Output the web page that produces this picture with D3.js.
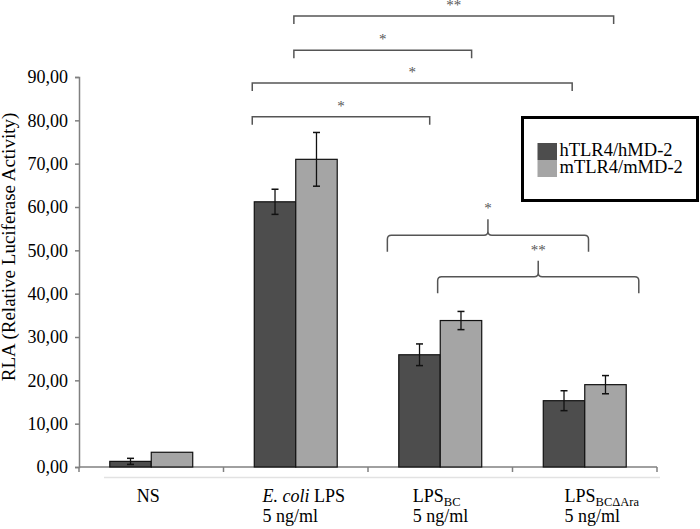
<!DOCTYPE html>
<html>
<head>
<meta charset="utf-8">
<script src="https://cdn.jsdelivr.net/npm/d3@7"></script>
<style>
  body { margin: 0; background: #fff; }
  svg { display: block; font-family: "Liberation Serif", "Times New Roman", serif; }
</style>
</head>
<body>
<div id="chart"></div>
<script>
const categories = ["NS", "E. coli LPS", "LPS_BC", "LPS_BCdAra"];
const seriesNames = ["hTLR4/hMD-2", "mTLR4/mMD-2"];
const hValues = [1.3, 61.2, 25.9, 15.3];
const hErrors = [0.7, 2.9, 2.5, 2.3];
const mValues = [3.4, 71.0, 33.8, 19.0];
const mErrors = [0, 6.2, 2.1, 2.1];
const yTicks = [0, 10, 20, 30, 40, 50, 60, 70, 80, 90];

// significance marks: [category index, fraction of band] for both ends, height in data units
const brackets = [
  { from: [1, 0.487], to: [3, 0.70], level: 104.1, label: "**" },
  { from: [1, 0.487], to: [2, 0.717], level: 96.2, label: "*" },
  { from: [1, 0.199], to: [3, 0.413], level: 88.6, label: "*" },
  { from: [1, 0.199], to: [2, 0.427], level: 80.8, label: "*" },
];
const braces = [
  { from: [2, 0.134], to: [3, 0.526], level: 53.5, label: "*" },
  { from: [2, 0.482], to: [3, 0.874], level: 43.9, label: "**" },
];

const width = 700;
const height = 529;
const margin = { top: 77, right: 43, bottom: 62, left: 79 };
const colors = ["#4d4d4d", "#a5a5a5"];
const axisColor = "#808080";

const svg = d3.select("#chart").append("svg")
  .attr("width", width)
  .attr("height", height);

const x = d3.scaleBand()
  .domain(categories)
  .range([margin.left, width - margin.right])
  .padding(0);

const bw = x.bandwidth();
const barW = bw * 0.287;
const xSub = d3.scaleBand()
  .domain(seriesNames)
  .range([bw / 2 - barW, bw / 2 + barW]);

const y = d3.scaleLinear()
  .domain([0, 90])
  .range([height - margin.bottom, margin.top]);

const fmt = (d) => d3.format(".2f")(d).replace(".", ",");

// y axis
const yAxis = svg.append("g")
  .attr("transform", `translate(${margin.left},0)`)
  .call(d3.axisLeft(y).tickValues(yTicks).tickFormat(fmt).tickSize(4).tickPadding(7));
yAxis.select(".domain").attr("stroke", axisColor).attr("stroke-width", 1.5);
yAxis.selectAll(".tick line").attr("stroke", axisColor).attr("stroke-width", 1.5);
yAxis.selectAll(".tick text")
  .attr("fill", "#000")
  .style("font-family", "Liberation Serif, serif")
  .style("font-size", "18px");

svg.append("text")
  .attr("transform", `translate(15, ${(margin.top + height - margin.bottom) / 2 - 25}) rotate(-90)`)
  .attr("text-anchor", "middle")
  .style("font-size", "19px")
  .text("RLA (Relative Luciferase Activity)");

// x axis line and category ticks
const y0 = y(0);
svg.append("line")
  .attr("x1", margin.left).attr("x2", width - margin.right)
  .attr("y1", y0).attr("y2", y0)
  .attr("stroke", axisColor).attr("stroke-width", 1.5);

const edges = categories.map((c) => x(c)).concat([width - margin.right]);
svg.selectAll(".xtick")
  .data(edges)
  .join("line")
  .attr("class", "xtick")
  .attr("x1", (d) => d).attr("x2", (d) => d)
  .attr("y1", y0).attr("y2", y0 + 5)
  .attr("stroke", axisColor).attr("stroke-width", 1.5);

// faint line under axis
svg.append("line")
  .attr("x1", x(categories[0]) + 25).attr("x2", width - margin.right + 3)
  .attr("y1", y0 + 10.5).attr("y2", y0 + 10.5)
  .attr("stroke", "#e2e2e2").attr("stroke-width", 1.5);

// bars
const seriesData = [
  { name: seriesNames[0], values: hValues, errors: hErrors, color: colors[0] },
  { name: seriesNames[1], values: mValues, errors: mErrors, color: colors[1] },
];

seriesData.forEach((s) => {
  const g = svg.append("g");
  const rows = categories.map((c, i) => ({ c, v: s.values[i], e: s.errors[i] }));

  g.selectAll("rect")
    .data(rows)
    .join("rect")
    .attr("x", (d) => x(d.c) + xSub(s.name))
    .attr("y", (d) => y(d.v))
    .attr("width", xSub.bandwidth())
    .attr("height", (d) => y(0) - y(d.v))
    .attr("fill", s.color)
    .attr("stroke", "#111")
    .attr("stroke-width", 1.2);

  const err = g.selectAll(".err")
    .data(rows.filter((d) => d.e > 0))
    .join("g")
    .attr("class", "err")
    .attr("transform", (d) => `translate(${x(d.c) + xSub(s.name) + xSub.bandwidth() / 2},0)`);
  err.append("line")
    .attr("y1", (d) => y(d.v + d.e)).attr("y2", (d) => y(d.v - d.e))
    .attr("stroke", "#111").attr("stroke-width", 1.3);
  err.append("line")
    .attr("x1", -3.5).attr("x2", 3.5)
    .attr("y1", (d) => y(d.v + d.e)).attr("y2", (d) => y(d.v + d.e))
    .attr("stroke", "#111").attr("stroke-width", 1.5);
  err.append("line")
    .attr("x1", -3.5).attr("x2", 3.5)
    .attr("y1", (d) => y(d.v - d.e)).attr("y2", (d) => y(d.v - d.e))
    .attr("stroke", "#111").attr("stroke-width", 1.5);
});

// category labels
const labelStart = [0.40, 0.27, 0.31, 0.36];
const labelParts = [
  [["NS", null]],
  [["E. coli", "italic"], [" LPS", null]],
  [["LPS", null], ["BC", "sub"]],
  [["LPS", null], ["BC\u0394Ara", "sub"]],
];
categories.forEach((c, i) => {
  const lx = x(c) + bw * labelStart[i];
  const t = svg.append("text")
    .attr("x", lx)
    .attr("y", y0 + 34.5)
    .style("font-size", "18px");
  labelParts[i].forEach(([txt, kind]) => {
    const ts = t.append("tspan").text(txt);
    if (kind === "italic") ts.style("font-style", "italic");
    if (kind === "sub") ts.style("font-size", "12.5px").attr("dy", 4);
  });
  if (i > 0) {
    svg.append("text")
      .attr("x", lx)
      .attr("y", y0 + 54.5)
      .style("font-size", "18px")
      .text("5 ng/ml");
  }
});

// significance brackets
const px = ([ci, f]) => x(categories[ci]) + bw * f;
const markColor = "#555";

brackets.forEach((b) => {
  const x1 = px(b.from);
  const x2 = px(b.to);
  const yy = y(b.level);
  svg.append("path")
    .attr("d", `M${x1},${yy + 8}V${yy}H${x2}V${yy + 8}`)
    .attr("fill", "none")
    .attr("stroke", markColor)
    .attr("stroke-width", 1.5);
  svg.append("text")
    .attr("x", (x1 + x2) / 2)
    .attr("y", yy - 6)
    .attr("text-anchor", "middle")
    .attr("fill", markColor)
    .style("font-size", "15px")
    .text(b.label);
});

braces.forEach((b) => {
  const x1 = px(b.from);
  const x2 = px(b.to);
  const xm = (x1 + x2) / 2;
  const yy = y(b.level);
  const r = 4;
  const d = [
    `M${x1},${yy + 16.5}`,
    `V${yy + r}`,
    `Q${x1},${yy} ${x1 + r},${yy}`,
    `H${xm - r}`,
    `Q${xm},${yy} ${xm},${yy - r}`,
    `V${yy - 16}`,
    `M${xm},${yy - r}`,
    `Q${xm},${yy} ${xm + r},${yy}`,
    `H${x2 - r}`,
    `Q${x2},${yy} ${x2},${yy + r}`,
    `V${yy + 16.5}`,
  ].join("");
  svg.append("path")
    .attr("d", d)
    .attr("fill", "none")
    .attr("stroke", markColor)
    .attr("stroke-width", 1.5);
  svg.append("text")
    .attr("x", xm)
    .attr("y", yy - 22)
    .attr("text-anchor", "middle")
    .attr("fill", markColor)
    .style("font-size", "15px")
    .text(b.label);
});

// legend
const legend = svg.append("g").attr("transform", "translate(521,116)");
legend.append("rect")
  .attr("x", 1.5).attr("y", 1.5)
  .attr("width", 175).attr("height", 83)
  .attr("fill", "#fff")
  .attr("stroke", "#000")
  .attr("stroke-width", 3);
seriesNames.forEach((name, i) => {
  legend.append("rect")
    .attr("x", 16.5)
    .attr("y", 27 + i * 17)
    .attr("width", 19.5)
    .attr("height", 17)
    .attr("fill", colors[i]);
  legend.append("text")
    .attr("x", 38.5)
    .attr("y", 39.5 + i * 17.5)
    .style("font-size", "18.5px")
    .text(name);
});
</script>
</body>
</html>
